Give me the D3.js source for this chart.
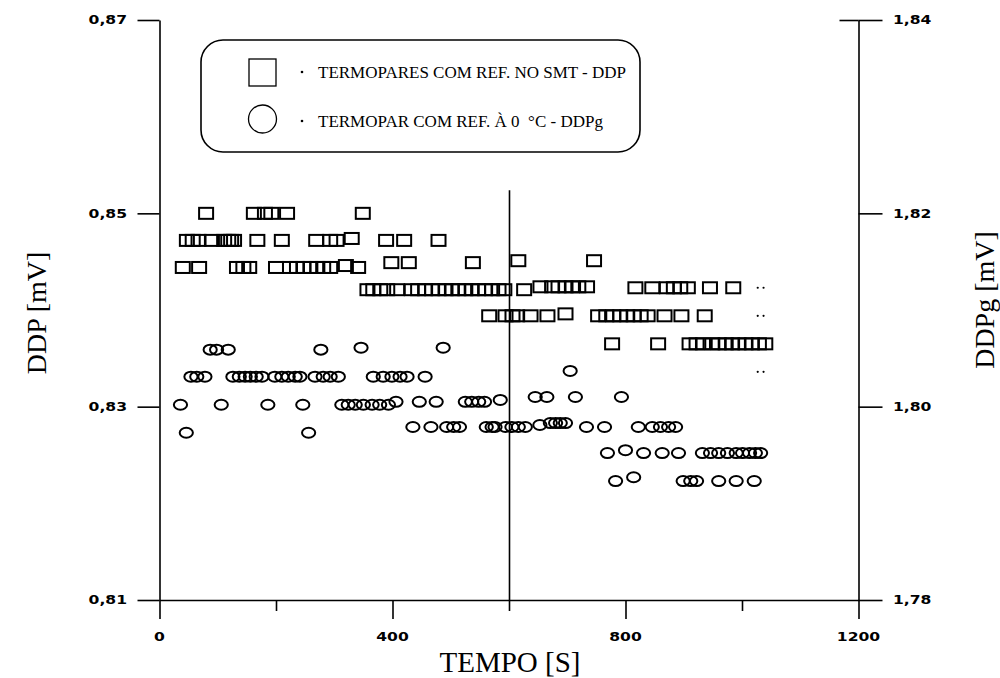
<!DOCTYPE html>
<html>
<head>
<meta charset="utf-8">
<script src="https://cdn.jsdelivr.net/npm/d3@7"></script>
<style>
  body { margin: 0; background: #fff; }
  .axis path, .axis line { stroke: #000; stroke-width: 1.6; }
</style>
</head>
<body>
<svg id="chart" width="1000" height="678"></svg>
<script>
// ticks
const timeTicks = [0, 400, 800, 1200];
const timeMinor = [200, 600, 1000];
const ddpTicks = [0.81, 0.83, 0.85, 0.87];
const ddpgTicks = [1.78, 1.80, 1.82, 1.84];

const row = (v, times) => times.map(t => [t, v]);

// squares: TERMOPARES COM REF. NO SMT - DDP  (left axis)
const ddp = [
  ...row(0.8500, [80, 162, 181, 192, 219, 349]),
  ...row(0.8472, [47, 57, 67, 90, 111, 118, 123, 128, 168, 210, 269, 293, 304, 389, 420, 479]),
  ...row(0.8474, [330]),
  ...row(0.8444, [40, 68, 133, 144, 154, 200, 224, 236, 247, 259, 271, 281, 293, 341]),
  ...row(0.8446, [320]),
  ...row(0.8449, [398, 428, 538]),
  ...row(0.8451, [616, 746]),
  ...row(0.8421, [357, 367, 379, 391, 408, 433, 444, 456, 468, 479, 491, 502, 513, 525, 536, 547, 559, 571, 582, 592, 626]),
  ...row(0.8424, [654, 674, 685, 697, 708, 719, 734]),
  ...row(0.8423, [817, 846, 871, 883, 894, 907, 945, 985]),
  ...row(0.8394, [566, 594, 606, 614, 637, 666, 753, 767, 779, 791, 803, 814, 826, 838, 867, 896, 936]),
  ...row(0.8396, [697]),
  ...row(0.8365, [777, 856, 910, 922, 933, 949, 960, 972, 983, 994, 1006, 1017, 1029, 1040])
];

// small stray dots at the end of the record (left axis)
const strayT = [1027, 1037];
const strayV = [0.8423, 0.8394, 0.8336];

// circles: TERMOPAR COM REF. A 0 C - DDPg  (right axis)
const ddpg = [
  ...row(1.8059, [87, 98, 118, 277]),
  ...row(1.8061, [346, 487]),
  ...row(1.8037, [705]),
  ...row(1.8031, [54, 64, 78, 126, 137, 147, 156, 166, 176, 198, 210, 221, 233, 241, 267, 281, 293, 307, 367, 384, 399, 413, 425, 456]),
  ...row(1.8002, [36, 106, 186, 246, 313, 324, 336, 350, 365, 378, 393]),
  ...row(1.8005, [406, 446, 475, 525, 536, 548, 558]),
  ...row(1.8007, [585]),
  ...row(1.8010, [645, 665, 714, 793]),
  ...row(1.7973, [46, 256]),
  ...row(1.7979, [435, 466, 493, 505, 515, 561, 571, 576, 594, 605, 616, 628, 733, 764, 822, 846, 860, 874, 886]),
  ...row(1.7981, [653]),
  ...row(1.7983, [671, 680, 688, 697]),
  ...row(1.7952, [769, 831, 863, 891, 932, 946, 960, 975, 990, 1001, 1013, 1023, 1032]),
  ...row(1.7955, [800]),
  ...row(1.7923, [783, 899, 912, 922, 960, 990, 1021]),
  ...row(1.7927, [814])
];

const svg = d3.select("#chart");

const x = d3.scaleLinear().domain([0, 1200]).range([159.5, 858.5]);
const yL = d3.scaleLinear().domain([0.81, 0.87]).range([600, 20]);
const yR = d3.scaleLinear().domain([1.78, 1.84]).range([600, 20]);

const comma = d => d3.format(".2f")(d).replace(".", ",");

// axes
svg.append("g").attr("class", "axis")
  .attr("transform", `translate(${x(0)},0)`)
  .call(d3.axisLeft(yL).tickValues(ddpTicks).tickSize(22).tickSizeOuter(0).tickFormat(""));

svg.append("g").attr("class", "axis")
  .attr("transform", `translate(${x(1200)},0)`)
  .call(d3.axisRight(yR).tickValues(ddpgTicks).tickSize(24).tickSizeOuter(0).tickFormat(""));

svg.append("g").attr("class", "axis")
  .attr("transform", `translate(0,${yL(0.81)})`)
  .call(d3.axisBottom(x).tickValues(timeTicks).tickSize(19).tickSizeOuter(0).tickFormat(""));

svg.append("g").attr("class", "axis minor")
  .attr("transform", `translate(0,${yL(0.81)})`)
  .call(d3.axisBottom(x).tickValues(timeMinor).tickSize(11).tickFormat(""))
  .select(".domain").remove();

// top right tick runs a bit inside the frame
svg.append("line")
  .attr("x1", x(1200) - 19).attr("x2", x(1200))
  .attr("y1", yR(1.84) + 0.5).attr("y2", yR(1.84) + 0.5)
  .attr("stroke", "#000").attr("stroke-width", 1.6);

// vertical line at 600 s
svg.append("line")
  .attr("x1", x(600) + 0.5).attr("x2", x(600) + 0.5)
  .attr("y1", yL(0.8524)).attr("y2", yL(0.81))
  .attr("stroke", "#000").attr("stroke-width", 1.6);

// tick labels (wide bold sans)
function tickLabel(px, py, txt, anchor) {
  svg.append("text")
    .attr("transform", `translate(${px},${py}) scale(1.3,1)`)
    .attr("text-anchor", anchor)
    .attr("dy", "0.36em")
    .style("font-family", "'DejaVu Sans', sans-serif")
    .style("font-weight", "bold")
    .style("font-size", "12px")
    .text(txt);
}
ddpTicks.forEach(d => tickLabel(127, yL(d), comma(d), "end"));
ddpgTicks.forEach(d => tickLabel(893, yR(d), comma(d), "start"));
timeTicks.forEach(d => tickLabel(x(d), 637, d, "middle"));

// axis titles
const serif = "'Liberation Serif', 'Times New Roman', serif";
svg.append("text")
  .attr("transform", "translate(46,313) rotate(-90)")
  .attr("text-anchor", "middle")
  .style("font-family", serif).style("font-size", "28px")
  .text("DDP [mV]");
svg.append("text")
  .attr("transform", "translate(994,300) rotate(-90)")
  .attr("text-anchor", "middle")
  .style("font-family", serif).style("font-size", "28px")
  .text("DDPg [mV]");
svg.append("text")
  .attr("x", 510).attr("y", 672)
  .attr("text-anchor", "middle")
  .style("font-family", serif).style("font-size", "29px")
  .text("TEMPO [S]");

// data marks
svg.append("g")
  .selectAll("rect")
  .data(ddp)
  .join("rect")
  .attr("x", d => x(d[0]) - 7)
  .attr("y", d => yL(d[1]) - 5.5)
  .attr("width", 14)
  .attr("height", 11)
  .attr("fill", "none")
  .attr("stroke", "#000")
  .attr("stroke-width", 2);

svg.append("g")
  .selectAll("ellipse")
  .data(ddpg)
  .join("ellipse")
  .attr("cx", d => x(d[0]))
  .attr("cy", d => yR(d[1]))
  .attr("rx", 6.6)
  .attr("ry", 5)
  .attr("fill", "none")
  .attr("stroke", "#000")
  .attr("stroke-width", 2);

svg.append("g")
  .selectAll("circle")
  .data(d3.cross(strayT, strayV))
  .join("circle")
  .attr("cx", d => x(d[0]))
  .attr("cy", d => yL(d[1]))
  .attr("r", 1.1)
  .attr("fill", "#000");

// legend
const legend = svg.append("g");
legend.append("rect")
  .attr("x", 201).attr("y", 40).attr("width", 439).attr("height", 112)
  .attr("rx", 22).attr("ry", 22)
  .attr("fill", "#fff").attr("stroke", "#000").attr("stroke-width", 1.6);
legend.append("rect")
  .attr("x", 249).attr("y", 59).attr("width", 27).attr("height", 27)
  .attr("fill", "none").attr("stroke", "#000").attr("stroke-width", 1.3);
legend.append("circle")
  .attr("cx", 262.5).attr("cy", 119).attr("r", 14)
  .attr("fill", "none").attr("stroke", "#000").attr("stroke-width", 1.3);

const legendItems = [
  { y: 78, label: "TERMOPARES COM REF. NO SMT - DDP" },
  { y: 127, label: "TERMOPAR COM REF. \u00C0 0  \u00B0C - DDPg" }
];
legendItems.forEach(it => {
  legend.append("circle").attr("cx", 302).attr("cy", it.y - 6).attr("r", 1.3).attr("fill", "#000");
  legend.append("text")
    .attr("x", 318).attr("y", it.y)
    .style("font-family", serif).style("font-size", "17px")
    .style("white-space", "pre")
    .text(it.label);
});
</script>
</body>
</html>
